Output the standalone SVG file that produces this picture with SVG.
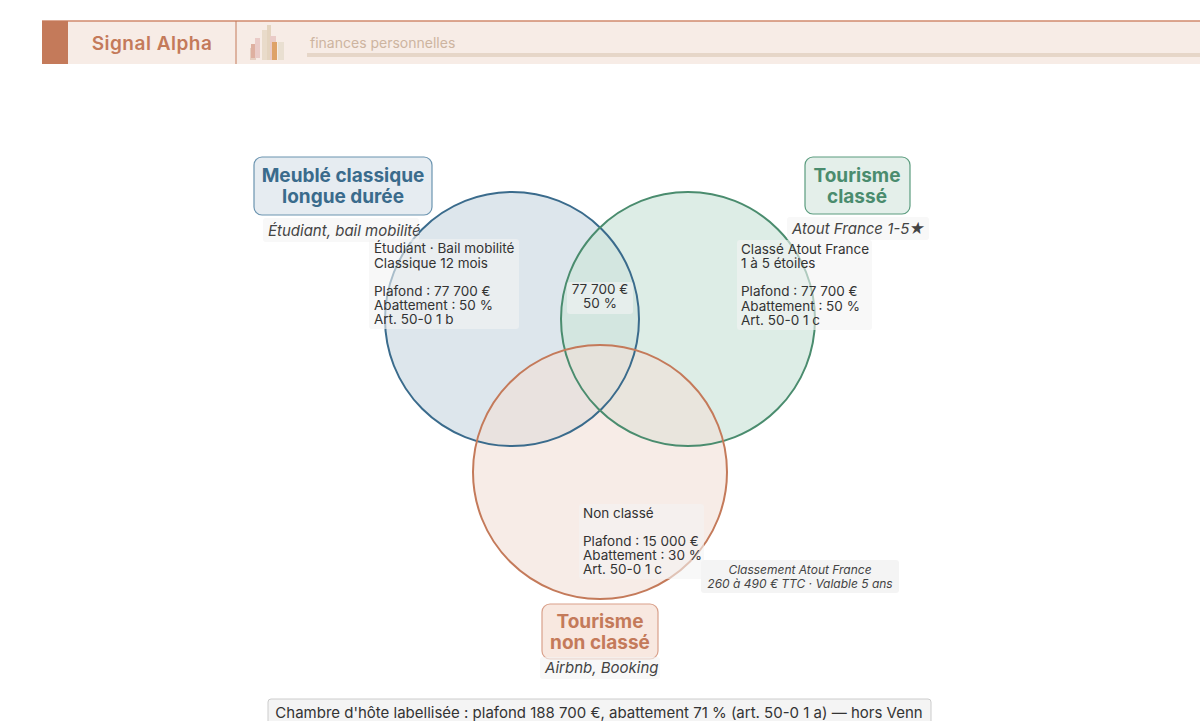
<svg xmlns="http://www.w3.org/2000/svg" width="1200" height="721" viewBox="0 0 1200 721">
<style>
text{font-family:Inter,"Noto Sans",sans-serif}
.body{font-size:13.5px;fill:#333}
.sub{font-size:15px;font-style:italic;fill:#444}
.ttl{font-size:19px;font-weight:bold;text-anchor:middle}
.lbg{fill:#f4f4f4;fill-opacity:0.6}
</style>
<rect width="1200" height="721" fill="#fff"/>
<g id="header">
<rect x="42" y="21" width="1170" height="43" fill="#f7ece6"/>
<line x1="42" y1="21" x2="1200" y2="21" stroke="#d08a6c" stroke-width="1.5"/>
<rect x="42" y="21" width="26" height="43" fill="#c47a5a"/>
<line x1="236" y1="21" x2="236" y2="64" stroke="#c47a5a" stroke-width="1"/>
<text x="152" y="50" text-anchor="middle" font-family="Poppins,'Noto Sans',sans-serif" font-size="19" font-weight="600" letter-spacing="0.5" fill="#c47a5a">Signal Alpha</text>
<g opacity="0.8">
<rect x="250" y="48" width="6" height="12" fill="#e2c9b8"/>
<rect x="251" y="44" width="4" height="14" fill="#d9a28f"/>
<rect x="255" y="38" width="5" height="20" fill="#e7c4c0"/>
<rect x="262" y="30" width="7" height="30" fill="#e6d7c4"/>
<rect x="267" y="25" width="4" height="35" fill="#e0cfb6"/>
<rect x="270" y="36" width="6" height="24" fill="#e7c4c0"/>
<rect x="272" y="42" width="5" height="18" fill="#d9904a"/>
<rect x="278" y="42" width="6" height="18" fill="#e6dccd"/>
</g>
<text x="310" y="48" font-family="Quicksand,'Noto Sans',sans-serif" font-size="14" fill="#cdb4a0">finances personnelles</text>
<rect x="307" y="53" width="893" height="4" fill="#e6d6c8"/>
</g>
<g id="circles">
<circle cx="512" cy="319" r="127" fill="#dde6ec"/>
<circle cx="688" cy="319" r="127" fill="#cfe5dc" fill-opacity="0.7"/>
<circle cx="600" cy="472" r="127" fill="#f2dfd7" fill-opacity="0.6"/>
<g fill="none" stroke-width="2">
<circle cx="512" cy="319" r="127" stroke="#3a6b8c"/>
<circle cx="688" cy="319" r="127" stroke="#4a8c6e"/>
<circle cx="600" cy="472" r="127" stroke="#c47a5a"/>
</g>
</g>
<g id="set-meuble">
<rect x="254" y="157" width="178" height="58" rx="8" fill="#e6ecf1" stroke="#6b94b0" stroke-width="1.2"/>
<text class="ttl" x="343" y="182" fill="#3a6b8c">Meublé classique</text>
<text class="ttl" x="343" y="203" fill="#3a6b8c">longue durée</text>
<rect class="lbg" x="263" y="218" width="156" height="24" rx="3"/>
<text class="sub" x="268" y="236">Étudiant, bail mobilité</text>
<rect class="lbg" x="369" y="239" width="150" height="90" rx="3"/>
<text class="body" x="374" y="253">Étudiant · Bail mobilité</text>
<text class="body" x="374" y="268">Classique 12 mois</text>
<text class="body" x="374" y="296">Plafond : 77 700 €</text>
<text class="body" x="374" y="310">Abattement : 50 %</text>
<text class="body" x="374" y="324">Art. 50-0 1 b</text>
</g>
<g id="set-classe">
<rect x="805" y="157" width="105" height="57" rx="8" fill="#e4efea" stroke="#5a9c7e" stroke-width="1.2"/>
<text class="ttl" x="857" y="182" fill="#4a8c6e">Tourisme</text>
<text class="ttl" x="857" y="203" fill="#4a8c6e">classé</text>
<rect class="lbg" x="787" y="217" width="142" height="23" rx="3"/>
<text class="sub" x="792" y="234">Atout France 1-5★</text>
<rect class="lbg" x="737" y="240" width="135" height="90" rx="3"/>
<text class="body" x="741" y="254">Classé Atout France</text>
<text class="body" x="741" y="268">1 à 5 étoiles</text>
<text class="body" x="741" y="296">Plafond : 77 700 €</text>
<text class="body" x="741" y="311">Abattement : 50 %</text>
<text class="body" x="741" y="325">Art. 50-0 1 c</text>
</g>
<g id="intersection">
<rect class="lbg" x="567" y="282" width="66" height="32" rx="3"/>
<text class="body" x="600" y="294" text-anchor="middle">77 700 €</text>
<text class="body" x="600" y="308" text-anchor="middle">50 %</text>
</g>
<g id="set-nonclasse">
<rect x="542" y="604" width="116" height="55" rx="8" fill="#f8e8e0" stroke="#d9a08a" stroke-width="1.2"/>
<text class="ttl" x="600" y="628" fill="#c47a5a">Tourisme</text>
<text class="ttl" x="600" y="649" fill="#c47a5a">non classé</text>
<rect class="lbg" x="540" y="657" width="120" height="22" rx="3"/>
<text class="sub" x="545" y="673">Airbnb, Booking</text>
<rect class="lbg" x="579" y="504" width="125" height="75" rx="3"/>
<text class="body" x="583" y="518">Non classé</text>
<text class="body" x="583" y="546">Plafond : 15 000 €</text>
<text class="body" x="583" y="560">Abattement : 30 %</text>
<text class="body" x="583" y="574">Art. 50-0 1 c</text>
</g>
<g id="note">
<rect x="701" y="560" width="198" height="33" rx="3" fill="#f4f4f4"/>
<text x="800" y="574" text-anchor="middle" font-size="12" font-style="italic" fill="#444">Classement Atout France</text>
<text x="800" y="588" text-anchor="middle" font-size="12" font-style="italic" fill="#444">260 à 490 € TTC · Valable 5 ans</text>
</g>
<g id="footer">
<rect x="268" y="699" width="663" height="30" rx="3" fill="#f4f4f4" stroke="#ccc"/>
<text x="599" y="718" text-anchor="middle" font-size="15" fill="#333">Chambre d'hôte labellisée : plafond 188 700 €, abattement 71 % (art. 50-0 1 a) — hors Venn</text>
</g>
</svg>
